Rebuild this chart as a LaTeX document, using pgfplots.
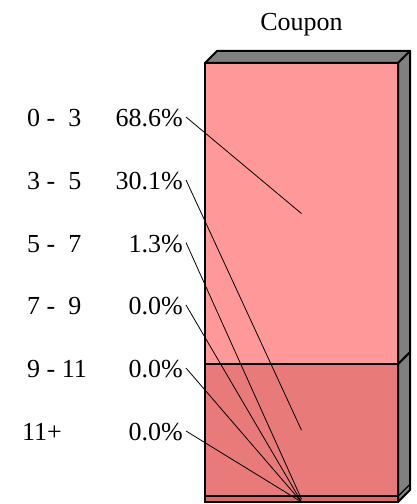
\documentclass[border=0pt]{standalone}
\usepackage{fontspec}
\setmainfont{Liberation Serif}
\usepackage{pgfplots}
\pgfplotsset{compat=1.18}
\definecolor{segA}{RGB}{255,153,153}
\definecolor{segB}{RGB}{232,122,122}
\definecolor{segC}{RGB}{222,104,104}
\definecolor{sidegray}{RGB}{128,128,128}
\pgfplotsset{
  base/.style={scale only axis, width=417bp, height=504bp,
    xmin=0, xmax=417, ymin=-0.4556, ymax=114.35, hide axis, clip=false,
    at={(0,0)}, anchor=south west}
}
\begin{document}
\begin{tikzpicture}
% stacked bar (bottom to top: 11+, 9-11, 7-9, 5-7, 3-5, 0-3)
\begin{axis}[base, ybar stacked, bar width=193bp]
\addplot[fill=segC, draw=black, line width=2bp] coordinates {(301.5,0.0)};
\addplot[fill=segC, draw=black, line width=2bp] coordinates {(301.5,0.0)};
\addplot[fill=segC, draw=black, line width=2bp] coordinates {(301.5,0.0)};
\addplot[fill=segC, draw=black, line width=2bp] coordinates {(301.5,1.3)};
\addplot[fill=segB, draw=black, line width=2bp] coordinates {(301.5,30.1)};
\addplot[fill=segA, draw=black, line width=2bp] coordinates {(301.5,68.6)};
\end{axis}
% 3D faces, labels, leader lines
\begin{axis}[base]
\addplot[fill=sidegray, draw=black, line width=2bp, line join=round] coordinates {(205,100) (217,102.733) (410,102.733) (398,100)} -- cycle;
\addplot[fill=sidegray, draw=black, line width=2bp, line join=round] coordinates {(398,0) (410,2.733) (410,102.733) (398,100)} -- cycle;
\addplot[draw=black, line width=2bp] coordinates {(398,31.4) (410,34.133)};
\addplot[draw=black, line width=1.2bp] coordinates {(398,1.3) (410,4.033)};
% leader lines
\addplot[draw=black, line width=0.8bp] coordinates {(186,87.70) (301.5,65.7)};
\addplot[draw=black, line width=0.8bp] coordinates {(186,73.35) (301.5,16.35)};
\addplot[draw=black, line width=0.8bp] coordinates {(186,59.11) (301.5,0.65)};
\addplot[draw=black, line width=0.8bp] coordinates {(186,44.87) (301.5,0)};
\addplot[draw=black, line width=0.8bp] coordinates {(186,30.52) (301.5,0)};
\addplot[draw=black, line width=0.8bp] coordinates {(186,16.17) (301.5,0)};
\begin{scope}[every node/.style={font=\fontsize{26bp}{30bp}\selectfont, inner sep=0pt}]
\node[anchor=base] at (axis cs:301.5,107.29) {Coupon};
\node[anchor=base west] at (axis cs:27,85.42) {0 -\ \ 3};
\node[anchor=base west] at (axis cs:27,71.07) {3 -\ \ 5};
\node[anchor=base west] at (axis cs:27,56.83) {5 -\ \ 7};
\node[anchor=base west] at (axis cs:27,42.60) {7 -\ \ 9};
\node[anchor=base west] at (axis cs:27,28.25) {9 - 11};
\node[anchor=base west] at (axis cs:22,13.90) {11+};
\node[anchor=base east] at (axis cs:183,85.42) {68.6\%};
\node[anchor=base east] at (axis cs:183,71.07) {30.1\%};
\node[anchor=base east] at (axis cs:183,56.83) {1.3\%};
\node[anchor=base east] at (axis cs:183,42.60) {0.0\%};
\node[anchor=base east] at (axis cs:183,28.25) {0.0\%};
\node[anchor=base east] at (axis cs:183,13.90) {0.0\%};
\end{scope}
\end{axis}
\path (0,0) rectangle (417bp,504bp);
\end{tikzpicture}
\end{document}
